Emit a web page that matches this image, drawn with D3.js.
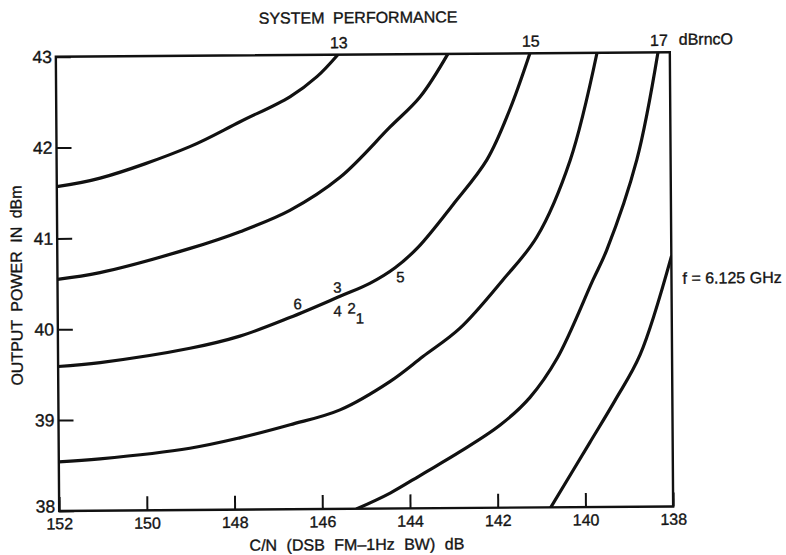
<!DOCTYPE html>
<html>
<head>
<meta charset="utf-8">
<script src="https://cdn.jsdelivr.net/npm/d3@7"></script>
<style>
  html, body { margin: 0; padding: 0; background: #fff; }
  svg { display: block; }
  text { font-family: "Liberation Sans", Arial, Helvetica, sans-serif; fill: #141414; stroke: #141414; stroke-width: 0.35px; }
</style>
</head>
<body>
<svg id="chart" width="786" height="555"></svg>
<script>
// Output power needed vs. carrier-to-noise ratio, one contour per system noise level (dBrncO)
const cnTicks = [152, 150, 148, 146, 144, 142, 140, 138];
const powerTicks = [38, 39, 40, 41, 42, 43];
const topLabels = ["13", "15", "17"];

// contour 13 dBrncO
const c13cn = [152, 151.01, 148.96, 147.81, 146.67, 146.05, 145.57];
const c13p  = [41.57, 41.66, 42.00, 42.27, 42.54, 42.76, 43.00];
// contour 14 dBrncO
const c14cn = [152, 151.03, 148.97, 147.83, 146.69, 145.54, 144.39, 143.70, 143.06];
const c14p  = [40.55, 40.62, 40.88, 41.06, 41.29, 41.65, 42.20, 42.53, 43.00];
// contour 15 dBrncO
const c15cn = [152, 151.04, 148.99, 147.85, 146.71, 145.56, 144.88, 144.30, 143.78, 142.97, 142.19, 141.66, 141.19];
const c15p  = [39.59, 39.63, 39.78, 39.91, 40.11, 40.34, 40.48, 40.65, 40.87, 41.34, 41.83, 42.38, 43.00];
// contour 16 dBrncO
const c16cn = [152, 151.06, 149.01, 147.87, 146.72, 145.58, 144.43, 143.68, 142.83, 141.84, 141.06, 140.29, 139.66];
const c16p  = [38.54, 38.57, 38.68, 38.79, 38.93, 39.09, 39.40, 39.67, 39.98, 40.51, 40.98, 41.82, 43.00];
// contour 17 dBrncO
const c17cn = [145.21, 144.45, 143.70, 142.85, 141.93, 141.25, 140.62, 139.79, 139.47, 138.77, 138.27];
const c17p  = [38.00, 38.17, 38.38, 38.62, 38.91, 39.21, 39.64, 40.50, 40.83, 41.82, 43.00];
// contour 18 dBrncO
const c18cn = [140.79, 139.89, 139.31, 138.73, 138.00];
const c18p  = [38.00, 38.71, 39.17, 39.67, 40.75];

// numbered measurement points beside the 15 dBrncO contour
const pointIds = ["6", "3", "4", "2", "1", "5"];
const pointCn  = [146.53, 145.62, 145.62, 145.30, 145.11, 144.18];
const pointP   = [40.26, 40.44, 40.18, 40.21, 40.10, 40.55];

const contours = [
  { cn: c13cn, p: c13p },
  { cn: c14cn, p: c14p },
  { cn: c15cn, p: c15p },
  { cn: c16cn, p: c16p },
  { cn: c17cn, p: c17p },
  { cn: c18cn, p: c18p }
];

const svg = d3.select("#chart");
const root = svg.append("g").attr("transform", "rotate(-0.42, 365, 282)");

const plotLeft = 57.5, plotRight = 671.5, plotTop = 54.5, plotBottom = 508.7;
const x = d3.scaleLinear().domain([152, 138]).range([plotLeft, plotRight]);
const y = d3.scaleLinear().domain([38, 43]).range([plotBottom, plotTop]);

root.append("defs").append("clipPath").attr("id", "plot-clip")
  .append("rect").attr("x", plotLeft).attr("y", plotTop)
  .attr("width", plotRight - plotLeft).attr("height", plotBottom - plotTop);

// contour lines
const line = d3.line()
  .x(d => x(d[0]))
  .y(d => y(d[1]))
  .curve(d3.curveCatmullRom.alpha(0.5));

root.append("g").attr("clip-path", "url(#plot-clip)")
  .selectAll("path").data(contours).join("path")
  .attr("d", c => line(c.cn.map((v, i) => [v, c.p[i]])))
  .attr("fill", "none")
  .attr("stroke", "#111")
  .attr("stroke-width", 3.2)
  .attr("stroke-linecap", "round");

// axes with inward ticks
const xAxis = d3.axisBottom(x).tickValues(cnTicks).tickSize(-14).tickSizeOuter(0).tickPadding(7)
  .tickFormat(d3.format("d"));
const gx = root.append("g").attr("transform", `translate(0,${plotBottom})`).call(xAxis);

const yAxis = d3.axisLeft(y).tickValues(powerTicks).tickSize(-15).tickSizeOuter(0).tickPadding(4)
  .tickFormat(d3.format("d"));
const gy = root.append("g").attr("transform", `translate(${plotLeft},0)`).call(yAxis);

[gx, gy].forEach(g => {
  g.select(".domain").remove();
  g.selectAll(".tick line").attr("stroke", "#111").attr("stroke-width", 2);
  g.selectAll(".tick text").attr("fill", "#141414")
    .attr("font-family", "'Liberation Sans', Arial, sans-serif");
});
gx.selectAll(".tick text").attr("font-size", 16);
gy.selectAll(".tick text").attr("font-size", 17.5);
// lift the bottom power label clear of the first C/N label
gy.selectAll(".tick text").filter(d => d === 38).attr("dy", "0.05em");

// plot frame
root.append("rect")
  .attr("x", plotLeft).attr("y", plotTop)
  .attr("width", plotRight - plotLeft).attr("height", plotBottom - plotTop)
  .attr("fill", "none").attr("stroke", "#111").attr("stroke-width", 2.4);

// contour labels along the top edge
const topEnds = [contours[0], contours[2], contours[4]];
root.append("g").selectAll("text").data(topEnds).join("text")
  .attr("x", c => x(c.cn[c.cn.length - 1]) + 1)
  .attr("y", plotTop - 6.5)
  .attr("text-anchor", "middle")
  .attr("font-size", 16)
  .text((c, i) => topLabels[i]);

root.append("text")
  .attr("x", plotRight + 9).attr("y", plotTop - 7.5)
  .attr("font-size", 16)
  .text("dBrncO");

root.append("text")
  .attr("x", 360).attr("y", 23)
  .attr("text-anchor", "middle")
  .attr("font-size", 16)
  .attr("word-spacing", 4)
  .text("SYSTEM PERFORMANCE");

// numbered points
root.append("g").selectAll("text").data(pointIds).join("text")
  .attr("x", (d, i) => x(pointCn[i]))
  .attr("y", (d, i) => y(pointP[i]))
  .attr("dy", "0.36em")
  .attr("text-anchor", "middle")
  .attr("font-size", 15)
  .text(d => d);

// frequency note
root.append("text")
  .attr("x", plotRight + 11).attr("y", 286)
  .attr("font-size", 16)
  .text("f = 6.125 GHz");

// axis titles
root.append("text")
  .attr("x", 355).attr("y", 550)
  .attr("text-anchor", "middle")
  .attr("font-size", 16)
  .attr("word-spacing", 5)
  .text("C/N (DSB FM\u20131Hz BW) dB");

root.append("text")
  .attr("transform", "translate(22,283) rotate(-90)")
  .attr("text-anchor", "middle")
  .attr("font-size", 16)
  .attr("word-spacing", 4)
  .text("OUTPUT POWER IN dBm");
</script>
</body>
</html>
